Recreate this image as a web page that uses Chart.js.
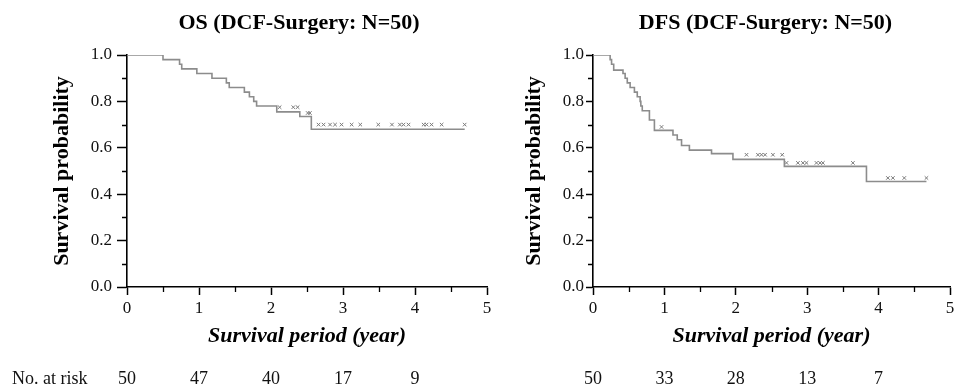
<!DOCTYPE html>
<html>
<head>
<meta charset="utf-8">
<script src="https://cdn.jsdelivr.net/npm/chart.js@4.4.0/dist/chart.umd.min.js"></script>
<style>
  body { margin: 0; background: #fff; }
  .panel { position: absolute; top: 0; height: 387px; }
  #osBox { left: 0; width: 500px; }
  #dfsBox { left: 500px; width: 459px; }
</style>
</head>
<body>
<div class="panel" id="osBox"><canvas id="osChart"></canvas></div>
<div class="panel" id="dfsBox"><canvas id="dfsChart"></canvas></div>
<script>
// OS curve (Kaplan-Meier steps)
const osTimes = [0, 0.50, 0.73, 0.76, 0.97, 1.18, 1.38, 1.42, 1.63, 1.70, 1.76, 1.80, 2.08, 2.40, 2.56, 4.69];
const osSurv  = [1.0, 0.98, 0.96, 0.94, 0.92, 0.90, 0.88, 0.86, 0.84, 0.82, 0.80, 0.78, 0.755, 0.735, 0.68, 0.68];
const osCensorTimes = [2.12, 2.31, 2.37, 2.51, 2.54, 2.66, 2.73, 2.82, 2.89, 2.98, 3.12, 3.24, 3.49, 3.68, 3.79, 3.84, 3.91, 4.12, 4.16, 4.23, 4.37, 4.69];
const osCensorSurv  = [0.775, 0.775, 0.775, 0.75, 0.75, 0.70, 0.70, 0.70, 0.70, 0.70, 0.70, 0.70, 0.70, 0.70, 0.70, 0.70, 0.70, 0.70, 0.70, 0.70, 0.70, 0.70];
const osAtRisk = [50, 47, 40, 17, 9];

// DFS curve
const dfsTimes = [0, 0.24, 0.26, 0.29, 0.42, 0.45, 0.48, 0.52, 0.58, 0.62, 0.66, 0.67, 0.69, 0.79, 0.86, 1.12, 1.18, 1.24, 1.35, 1.66, 1.96, 2.68, 3.83, 4.67];
const dfsSurv  = [1.0, 0.98, 0.96, 0.935, 0.92, 0.90, 0.88, 0.86, 0.84, 0.82, 0.80, 0.78, 0.76, 0.72, 0.675, 0.655, 0.635, 0.61, 0.59, 0.575, 0.55, 0.52, 0.455, 0.455];
const dfsCensorTimes = [0.96, 2.15, 2.31, 2.36, 2.41, 2.52, 2.65, 2.71, 2.87, 2.94, 2.99, 3.13, 3.18, 3.22, 3.64, 4.13, 4.20, 4.36, 4.67];
const dfsCensorSurv  = [0.69, 0.57, 0.57, 0.57, 0.57, 0.57, 0.57, 0.535, 0.535, 0.535, 0.535, 0.535, 0.535, 0.535, 0.535, 0.47, 0.47, 0.47, 0.47];
const dfsAtRisk = [50, 33, 28, 13, 7];

const xTicks = [0, 1, 2, 3, 4, 5];
const yTicks = [0, 0.2, 0.4, 0.6, 0.8, 1.0];

const serif = "'Liberation Serif', 'Times New Roman', serif";
const curveColor = '#8c8c8c';

// short minor ticks between the labelled ones
const minorTicks = {
  id: 'minorTicks',
  afterDraw(chart) {
    const { ctx, chartArea, scales } = chart;
    ctx.save();
    ctx.strokeStyle = '#000';
    ctx.lineWidth = 1.3;
    ctx.beginPath();
    for (let v = 0.1; v < 1; v += 0.2) {
      const y = Math.round(scales.y.getPixelForValue(v)) + 0.5;
      ctx.moveTo(chartArea.left, y);
      ctx.lineTo(chartArea.left - 5, y);
    }
    for (let v = 0.5; v < 5; v += 1) {
      const x = Math.round(scales.x.getPixelForValue(v)) + 0.5;
      ctx.moveTo(x, chartArea.bottom);
      ctx.lineTo(x, chartArea.bottom + 5);
    }
    ctx.stroke();
    ctx.restore();
  }
};

// panel title, centred over the plot area
const panelTitle = {
  id: 'panelTitle',
  afterDraw(chart, args, opts) {
    const { ctx, chartArea } = chart;
    ctx.save();
    ctx.font = 'bold 22px ' + serif;
    ctx.fillStyle = '#000';
    ctx.textAlign = 'center';
    ctx.textBaseline = 'middle';
    ctx.fillText(opts.text, (chartArea.left + chartArea.right) / 2 + opts.dx, 23);
    ctx.restore();
  }
};

// "No. at risk" row under the x axis
const atRiskRow = {
  id: 'atRiskRow',
  afterDraw(chart, args, opts) {
    const { ctx, scales } = chart;
    ctx.save();
    ctx.font = '18px ' + serif;
    ctx.fillStyle = '#111';
    ctx.textBaseline = 'middle';
    if (opts.label) {
      ctx.textAlign = 'left';
      ctx.fillText(opts.label, 12, opts.y);
    }
    ctx.textAlign = 'center';
    opts.values.forEach((n, i) => {
      ctx.fillText(String(n), scales.x.getPixelForValue(xTicks[i]), opts.y);
    });
    ctx.restore();
  }
};

function makeChart(id, p) {
  const curve = p.times.map((t, i) => ({ x: t, y: p.surv[i] }));
  const censor = p.censorTimes.map((t, i) => ({ x: t, y: p.censorSurv[i] }));

  return new Chart(document.getElementById(id), {
    type: 'line',
    data: {
      datasets: [{
        data: curve,
        stepped: true,
        borderColor: curveColor,
        borderWidth: 1.6,
        pointRadius: 0,
        fill: false
      }, {
        data: censor,
        showLine: false,
        pointStyle: 'crossRot',
        pointRadius: 2.5,
        borderColor: '#7a7a7a',
        borderWidth: 1,
        backgroundColor: '#7a7a7a'
      }]
    },
    options: {
      responsive: true,
      maintainAspectRatio: false,
      animation: false,
      layout: { padding: { top: 55, right: p.padRight } },
      plugins: {
        legend: { display: false },
        tooltip: { enabled: false },
        title: { display: false },
        panelTitle: { text: p.title, dx: p.titleDx },
        atRiskRow: { values: p.atRisk, label: p.riskLabel, y: 379 }
      },
      scales: {
        x: {
          type: 'linear',
          min: 0,
          max: 5,
          afterFit: s => { s.height = 100; },
          afterBuildTicks: s => { s.ticks = xTicks.map(v => ({ value: v })); },
          border: { color: '#000', width: 1.6 },
          grid: { drawOnChartArea: false, drawTicks: true, tickLength: 8, tickColor: '#000', tickWidth: 1.5 },
          ticks: {
            color: '#111',
            padding: 3,
            font: { family: serif, size: 17 },
            callback: v => String(v)
          },
          title: {
            display: true,
            text: 'Survival period (year)',
            color: '#000',
            font: { family: serif, size: 22, weight: 'bold', style: 'italic' },
            padding: { top: 0, bottom: 37 }
          }
        },
        y: {
          min: 0,
          max: 1,
          afterFit: s => { s.width = p.yWidth; },
          afterBuildTicks: s => { s.ticks = yTicks.map(v => ({ value: v })); },
          border: { color: '#000', width: 1.6 },
          grid: { drawOnChartArea: false, drawTicks: true, tickLength: p.yTick, tickColor: '#000', tickWidth: 1.5 },
          ticks: {
            color: '#111',
            padding: p.yPad,
            font: { family: serif, size: 17 },
            callback: v => v.toFixed(1)
          },
          title: {
            display: true,
            text: 'Survival probability',
            color: '#000',
            font: { family: serif, size: 22, weight: 'bold' },
            padding: { top: p.yTitleOffset, bottom: 0 }
          }
        }
      }
    },
    plugins: [minorTicks, panelTitle, atRiskRow]
  });
}

makeChart('osChart', {
  title: 'OS (DCF-Surgery: N=50)', titleDx: -8,
  times: osTimes, surv: osSurv,
  censorTimes: osCensorTimes, censorSurv: osCensorSurv,
  atRisk: osAtRisk, riskLabel: 'No. at risk',
  yWidth: 127, yTick: 10, yPad: 5, yTitleOffset: 49, padRight: 13
});

makeChart('dfsChart', {
  title: 'DFS (DCF-Surgery: N=50)', titleDx: -6,
  times: dfsTimes, surv: dfsSurv,
  censorTimes: dfsCensorTimes, censorSurv: dfsCensorSurv,
  atRisk: dfsAtRisk, riskLabel: '',
  yWidth: 93, yTick: 7, yPad: 2, yTitleOffset: 21, padRight: 9
});
</script>
</body>
</html>
